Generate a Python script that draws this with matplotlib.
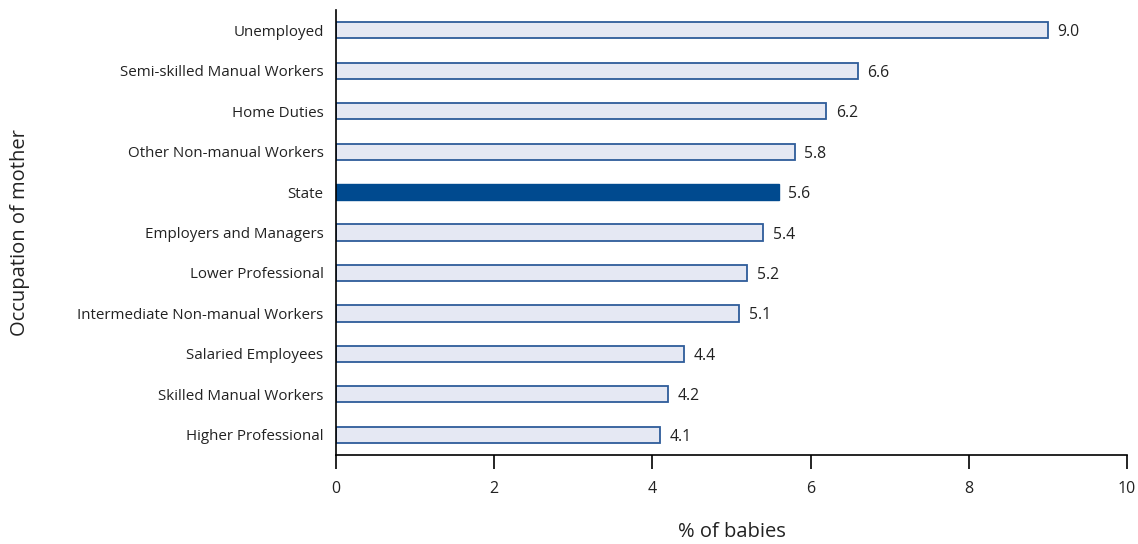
import matplotlib
matplotlib.use("Agg")
import matplotlib.pyplot as plt

occupations = [
    "Unemployed",
    "Semi-skilled Manual Workers",
    "Home Duties",
    "Other Non-manual Workers",
    "State",
    "Employers and Managers",
    "Lower Professional",
    "Intermediate Non-manual Workers",
    "Salaried Employees",
    "Skilled Manual Workers",
    "Higher Professional",
]
percent_babies = [9.0, 6.6, 6.2, 5.8, 5.6, 5.4, 5.2, 5.1, 4.4, 4.2, 4.1]
x_ticks = [0, 2, 4, 6, 8, 10]

plt.rcParams["font.family"] = ["Open Sans", "DejaVu Sans"]

fig = plt.figure(figsize=(11.38, 5.44), dpi=100)
ax = fig.add_axes([0.2953, 0.1636, 0.6950, 0.8180])

light_fill = "#E5E8F3"
edge_col = "#2E5C9A"
state_col = "#004A8F"

y_pos = list(range(len(occupations)))[::-1]
for y, name, val in zip(y_pos, occupations, percent_babies):
    if name == "State":
        ax.barh(y, val, height=0.4, color=state_col, edgecolor=state_col, linewidth=1.0)
    else:
        ax.barh(y, val, height=0.4, color=light_fill, edgecolor=edge_col, linewidth=1.3)
    ax.text(val + 0.12, y - 0.05, f"{val:.1f}", va="center", ha="left",
            fontsize=11.3, color="#222222")

ax.set_yticks(y_pos)
ax.set_yticklabels(occupations, fontsize=10.9, color="#222222")
ax.set_xticks(x_ticks)
ax.set_xticklabels([str(t) for t in x_ticks], fontsize=11.5, color="#222222")
ax.set_xlim(0, 10)
ax.set_ylim(-0.5, 10.5)

ax.tick_params(axis="y", length=0, pad=9)
ax.tick_params(axis="x", direction="out", length=10, width=1.2, pad=9)

for side in ["top", "right"]:
    ax.spines[side].set_visible(False)
ax.spines["left"].set_linewidth(1.2)
ax.spines["bottom"].set_linewidth(1.2)

ax.set_xlabel("% of babies", fontsize=14.5, color="#222222", labelpad=18)
ax.set_ylabel("Occupation of mother", fontsize=14.5, color="#222222")
ax.yaxis.set_label_coords(-0.387, 0.5)

fig.savefig("out.png", dpi=100)
